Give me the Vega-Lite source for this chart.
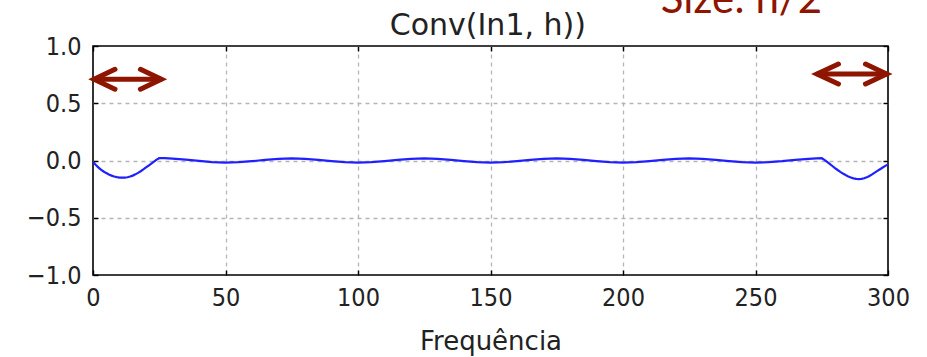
{
  "$schema": "https://vega.github.io/schema/vega-lite/v6.json",
  "autosize": {"type": "none"},
  "padding": {"left": 93, "top": 46, "right": 39, "bottom": 82},
  "width": 795,
  "height": 229,
  "background": "white",
  "config": {
    "view": {"stroke": "#000000", "strokeWidth": 1.6},
    "axis": {
      "labelFont": "DejaVu Sans Condensed, DejaVu Sans",
      "labelFontSize": 25,
      "labelColor": "#222222",
      "titleFont": "DejaVu Sans",
      "titleFontSize": 26,
      "titleFontWeight": "normal",
      "titleColor": "#222222",
      "domain": false,
      "tickColor": "#000000",
      "tickSize": -5,
      "tickWidth": 1.4,
      "grid": true,
      "gridColor": "#b5b5b5",
      "gridDash": [4, 4],
      "gridWidth": 1.3
    }
  },
  "resolve": {"axis": {"x": "independent", "y": "independent"}},
  "datasets": {
    "signal": [
      {"freq": 0, "amp": -0.012}, {"freq": 1, "amp": -0.038}, {"freq": 2, "amp": -0.06},
      {"freq": 3, "amp": -0.08}, {"freq": 4, "amp": -0.096}, {"freq": 5, "amp": -0.11},
      {"freq": 6, "amp": -0.122}, {"freq": 7, "amp": -0.132}, {"freq": 8, "amp": -0.14},
      {"freq": 9, "amp": -0.145}, {"freq": 10, "amp": -0.149}, {"freq": 11, "amp": -0.15},
      {"freq": 12, "amp": -0.149}, {"freq": 13, "amp": -0.146}, {"freq": 14, "amp": -0.14},
      {"freq": 15, "amp": -0.132}, {"freq": 16, "amp": -0.121}, {"freq": 17, "amp": -0.108},
      {"freq": 18, "amp": -0.094}, {"freq": 19, "amp": -0.078}, {"freq": 20, "amp": -0.061},
      {"freq": 21, "amp": -0.044}, {"freq": 22, "amp": -0.027}, {"freq": 23, "amp": -0.01},
      {"freq": 24, "amp": 0.008}, {"freq": 25, "amp": 0.02}, {"freq": 27, "amp": 0.02},
      {"freq": 30, "amp": 0.017}, {"freq": 35, "amp": 0.008}, {"freq": 40, "amp": -0.004},
      {"freq": 45, "amp": -0.014}, {"freq": 50, "amp": -0.018}, {"freq": 55, "amp": -0.015},
      {"freq": 60, "amp": -0.006}, {"freq": 65, "amp": 0.005}, {"freq": 70, "amp": 0.014},
      {"freq": 75, "amp": 0.018}, {"freq": 80, "amp": 0.015}, {"freq": 85, "amp": 0.006},
      {"freq": 90, "amp": -0.005}, {"freq": 95, "amp": -0.014}, {"freq": 100, "amp": -0.018},
      {"freq": 105, "amp": -0.015}, {"freq": 110, "amp": -0.006}, {"freq": 115, "amp": 0.005},
      {"freq": 120, "amp": 0.014}, {"freq": 125, "amp": 0.018}, {"freq": 130, "amp": 0.015},
      {"freq": 135, "amp": 0.006}, {"freq": 140, "amp": -0.005}, {"freq": 145, "amp": -0.014},
      {"freq": 150, "amp": -0.018}, {"freq": 155, "amp": -0.015}, {"freq": 160, "amp": -0.006},
      {"freq": 165, "amp": 0.005}, {"freq": 170, "amp": 0.014}, {"freq": 175, "amp": 0.018},
      {"freq": 180, "amp": 0.015}, {"freq": 185, "amp": 0.006}, {"freq": 190, "amp": -0.005},
      {"freq": 195, "amp": -0.014}, {"freq": 200, "amp": -0.018}, {"freq": 205, "amp": -0.015},
      {"freq": 210, "amp": -0.006}, {"freq": 215, "amp": 0.005}, {"freq": 220, "amp": 0.014},
      {"freq": 225, "amp": 0.018}, {"freq": 230, "amp": 0.015}, {"freq": 235, "amp": 0.006},
      {"freq": 240, "amp": -0.005}, {"freq": 245, "amp": -0.014}, {"freq": 250, "amp": -0.018},
      {"freq": 255, "amp": -0.015}, {"freq": 260, "amp": -0.006}, {"freq": 265, "amp": 0.006},
      {"freq": 270, "amp": 0.015}, {"freq": 273, "amp": 0.019}, {"freq": 275, "amp": 0.02},
      {"freq": 276, "amp": 0.005}, {"freq": 277, "amp": -0.012}, {"freq": 278, "amp": -0.03},
      {"freq": 279, "amp": -0.048}, {"freq": 280, "amp": -0.066}, {"freq": 281, "amp": -0.083},
      {"freq": 282, "amp": -0.099}, {"freq": 283, "amp": -0.114}, {"freq": 284, "amp": -0.127},
      {"freq": 285, "amp": -0.139}, {"freq": 286, "amp": -0.149}, {"freq": 287, "amp": -0.156},
      {"freq": 288, "amp": -0.161}, {"freq": 289, "amp": -0.163}, {"freq": 290, "amp": -0.161},
      {"freq": 291, "amp": -0.155}, {"freq": 292, "amp": -0.146}, {"freq": 293, "amp": -0.135},
      {"freq": 294, "amp": -0.121}, {"freq": 295, "amp": -0.106}, {"freq": 296, "amp": -0.091},
      {"freq": 297, "amp": -0.076}, {"freq": 298, "amp": -0.061}, {"freq": 299, "amp": -0.047},
      {"freq": 300, "amp": -0.035}
    ],
    "arrows": [
      {"seg": "L-shaft", "k": 0, "freq": 1, "amp": 0.71},
      {"seg": "L-shaft", "k": 1, "freq": 25.5, "amp": 0.71},
      {"seg": "L-head1", "k": 0, "freq": 8.3, "amp": 0.797},
      {"seg": "L-head1", "k": 1, "freq": 0.4, "amp": 0.71},
      {"seg": "L-head1", "k": 2, "freq": 8.3, "amp": 0.623},
      {"seg": "L-head2", "k": 0, "freq": 17.9, "amp": 0.797},
      {"seg": "L-head2", "k": 1, "freq": 25.8, "amp": 0.71},
      {"seg": "L-head2", "k": 2, "freq": 17.9, "amp": 0.623},
      {"seg": "R-shaft", "k": 0, "freq": 273.5, "amp": 0.755},
      {"seg": "R-shaft", "k": 1, "freq": 299, "amp": 0.755},
      {"seg": "R-head1", "k": 0, "freq": 281.3, "amp": 0.842},
      {"seg": "R-head1", "k": 1, "freq": 273.2, "amp": 0.755},
      {"seg": "R-head1", "k": 2, "freq": 281.3, "amp": 0.668},
      {"seg": "R-head2", "k": 0, "freq": 291.5, "amp": 0.842},
      {"seg": "R-head2", "k": 1, "freq": 299.5, "amp": 0.755},
      {"seg": "R-head2", "k": 2, "freq": 291.5, "amp": 0.668}
    ],
    "note": [
      {"freq": 244.7, "amp": 1.29, "label": "Size: n/2"}
    ],
    "heading": [
      {"freq": 149, "amp": 1.1, "label": "Conv(In1, h))"}
    ]
  },
  "layer": [
    {
      "data": {"name": "signal"},
      "mark": {"type": "line", "color": "#1f1fff", "strokeWidth": 2.2, "clip": true},
      "encoding": {
        "x": {
          "field": "freq", "type": "quantitative",
          "scale": {"domain": [0, 300], "nice": false, "zero": false},
          "axis": {
            "values": [0, 50, 100, 150, 200, 250, 300], "title": "Frequência",
            "labelPadding": 15, "titlePadding": 18, "labelFlush": false,
            "gridOpacity": {"condition": {"test": "datum.value == 0 || datum.value == 300", "value": 0}, "value": 1}
          }
        },
        "y": {
          "field": "amp", "type": "quantitative",
          "scale": {"domain": [-1, 1], "nice": false},
          "axis": {
            "values": [-1, -0.5, 0, 0.5, 1], "format": ".1f", "title": null, "labelPadding": 17,
            "gridOpacity": {"condition": {"test": "datum.value == -1 || datum.value == 1", "value": 0}, "value": 1}
          }
        }
      }
    },
    {
      "data": {"name": "arrows"},
      "mark": {"type": "line", "color": "#8e1500", "strokeWidth": 5, "strokeCap": "round", "strokeJoin": "miter", "strokeMiterLimit": 10},
      "encoding": {
        "x": {
          "field": "freq", "type": "quantitative",
          "axis": {"orient": "top", "values": [0, 50, 100, 150, 200, 250, 300], "labels": false, "grid": false, "title": null}
        },
        "y": {
          "field": "amp", "type": "quantitative",
          "axis": {"orient": "right", "values": [-1, -0.5, 0, 0.5, 1], "labels": false, "grid": false, "title": null}
        },
        "detail": {"field": "seg"},
        "order": {"field": "k"}
      }
    },
    {
      "data": {"name": "note"},
      "mark": {"type": "text", "color": "#8e1500", "font": "Lato", "fontSize": 42, "baseline": "alphabetic", "align": "center"},
      "encoding": {
        "x": {"field": "freq", "type": "quantitative", "axis": null},
        "y": {"field": "amp", "type": "quantitative", "axis": null},
        "text": {"field": "label"}
      }
    },
    {
      "data": {"name": "heading"},
      "mark": {"type": "text", "color": "#222222", "font": "DejaVu Sans", "fontSize": 30, "baseline": "alphabetic", "align": "center"},
      "encoding": {
        "x": {"field": "freq", "type": "quantitative", "axis": null},
        "y": {"field": "amp", "type": "quantitative", "axis": null},
        "text": {"field": "label"}
      }
    }
  ]
}
